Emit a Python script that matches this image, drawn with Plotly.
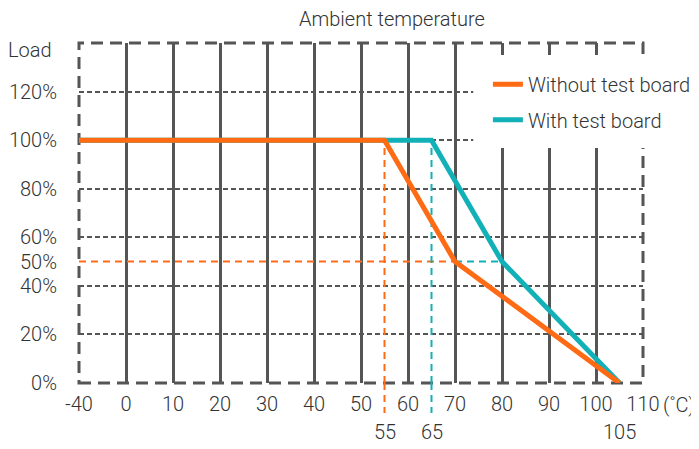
import plotly.graph_objects as go

# ---- data ----
x_tick_temps = [-40, 0, 10, 20, 30, 40, 50, 60, 70, 80, 90, 100, 110]
x_tick_labels = ["-40", "0", "10", "20", "30", "40", "50", "60", "70", "80", "90", "100", "110"]
y_tick_vals = [0, 20, 40, 50, 60, 80, 100, 120]
y_tick_labels = ["0%", "20%", "40%", "50%", "60%", "80%", "100%", "120%"]
y_grid_vals = [20, 40, 60, 80, 100, 120]
x_grid_temps = [0, 10, 20, 30, 40, 50, 60, 70, 80, 90, 100]

without_temp = [-40, 55, 70, 105]
without_load = [100, 100, 50, 0]
with_temp = [-40, 65, 80, 105]
with_load = [100, 100, 50, 0]

marked_temps = [55, 65, 105]
knee_load = 50

ORANGE = "#ff6a14"
TEAL = "#12b0b7"
GRID = "#555555"
TXT = "#333333"
FONT = "Roboto"
FS = 20


def pos(t):
    # the axis compresses -40..0 into one grid step
    return t / 4 if t < 0 else t


def tfont():
    return dict(size=FS, color=TXT, family=FONT, weight=300)


fig = go.Figure()

GD = "7px,5px"
# guide lines (dashed)
fig.add_trace(go.Scatter(
    x=[pos(without_temp[0]), pos(without_temp[2])], y=[knee_load, knee_load],
    mode="lines", line=dict(color=ORANGE, width=2, dash=GD),
    showlegend=False, hoverinfo="skip"))
fig.add_trace(go.Scatter(
    x=[pos(without_temp[2]), pos(with_temp[2])], y=[knee_load, knee_load],
    mode="lines", line=dict(color=TEAL, width=2, dash=GD),
    showlegend=False, hoverinfo="skip"))
fig.add_trace(go.Scatter(
    x=[pos(without_temp[1]), pos(without_temp[1])], y=[0, without_load[1]],
    mode="lines", line=dict(color=ORANGE, width=2, dash=GD),
    showlegend=False, hoverinfo="skip"))
fig.add_trace(go.Scatter(
    x=[pos(with_temp[1]), pos(with_temp[1])], y=[0, with_load[1]],
    mode="lines", line=dict(color=TEAL, width=2, dash=GD),
    showlegend=False, hoverinfo="skip"))

# main curves
fig.add_trace(go.Scatter(
    x=[pos(t) for t in with_temp], y=with_load, mode="lines",
    name="With test board", line=dict(color=TEAL, width=5), legend="legend2"))
fig.add_trace(go.Scatter(
    x=[pos(t) for t in without_temp], y=without_load, mode="lines",
    name="Without test board", line=dict(color=ORANGE, width=5), legend="legend"))

shapes = []
# dashed frame
shapes.append(dict(type="rect", xref="x domain", yref="y domain", x0=0, x1=1, y0=0, y1=1,
                   line=dict(color=GRID, width=3, dash="12px,7px"), layer="below"))
# white area behind legend (no curve passes through it)
shapes.append(dict(type="rect", xref="x domain", yref="y domain", x0=0.699, x1=1.092,
                   y0=0.691, y1=0.965,
                   line=dict(width=0), fillcolor="white", layer="above"))
# guide extensions below the axis
for t, c in [(without_temp[1], ORANGE), (with_temp[1], TEAL)]:
    shapes.append(dict(type="line", xref="x", yref="y domain", x0=pos(t), x1=pos(t),
                       y0=0, y1=-0.088,
                       line=dict(color=c, width=2, dash=GD), layer="above"))

annotations = [
    dict(text="Ambient temperature", xref="paper", yref="paper", x=0.555, y=1.0, yshift=24,
         showarrow=False, font=tfont(), xanchor="center", yanchor="middle"),
    dict(text="Load", xref="paper", yref="paper", x=0.0, xshift=-49, y=1.0, yshift=-7,
         showarrow=False, font=tfont(), xanchor="center", yanchor="middle"),
    dict(text="(˚C)", xref="paper", yref="paper", x=1.0, xshift=36, y=0.0, yshift=-22,
         showarrow=False, font=tfont(), xanchor="center", yanchor="middle"),
]
for t in marked_temps:
    annotations.append(dict(text=str(t), xref="x", yref="paper", x=pos(t), y=0.0, yshift=-49,
                            showarrow=False, font=tfont(),
                            xanchor="center", yanchor="middle"))

fig.update_layout(
    width=691, height=441,
    margin=dict(l=71, r=56, t=35, b=66, autoexpand=False),
    paper_bgcolor="white", plot_bgcolor="white",
    font=tfont(),
    shapes=shapes,
    annotations=annotations,
    showlegend=True,
    legend=dict(x=0.725, y=0.879, xanchor="left", yanchor="middle",
                bgcolor="rgba(0,0,0,0)", font=tfont(), itemwidth=30),
    legend2=dict(x=0.725, y=0.774, xanchor="left", yanchor="middle",
                 bgcolor="rgba(0,0,0,0)", font=tfont(), itemwidth=30),
    xaxis=dict(range=[pos(-40), pos(110)], tickmode="array",
               tickvals=[pos(t) for t in x_tick_temps], ticktext=x_tick_labels,
               showgrid=False, zeroline=False, showline=False, ticks="",
               ticklabelstandoff=7, automargin=False,
               minor=dict(tickmode="array", tickvals=[pos(t) for t in x_grid_temps],
                          showgrid=True, gridcolor=GRID, gridwidth=3, ticks="")),
    yaxis=dict(range=[0, 140], tickmode="array", tickvals=y_tick_vals, ticktext=y_tick_labels,
               showgrid=False, zeroline=False, showline=False, ticks="",
               ticklabelstandoff=21, automargin=False,
               minor=dict(tickmode="array", tickvals=y_grid_vals,
                          showgrid=True, gridcolor=GRID, gridwidth=2, griddash="5px,3px",
                          ticks="")),
)

fig.write_html("out.html")
